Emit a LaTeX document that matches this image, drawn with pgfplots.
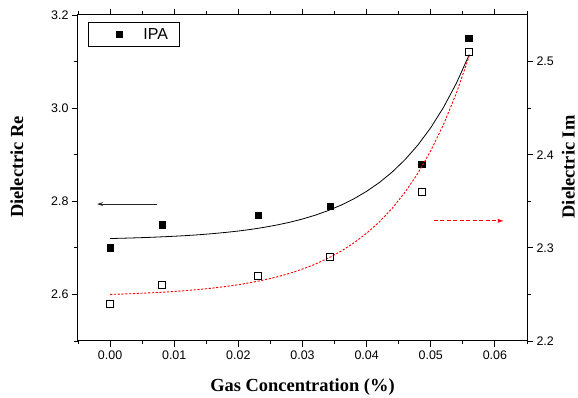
\documentclass[border=0pt]{standalone}
\usepackage{pgfplots}
\pgfplotsset{compat=1.18}
\usepackage{fontspec}
\setmainfont{Liberation Serif}
\newfontfamily\arialf{Liberation Sans}
\usetikzlibrary{arrows.meta}

\pgfplotstableread{
x y
0.000 2.7200
0.002 2.7207
0.004 2.7215
0.006 2.7224
0.008 2.7236
0.010 2.7249
0.012 2.7264
0.014 2.7283
0.016 2.7305
0.018 2.7331
0.020 2.7361
0.022 2.7397
0.024 2.7440
0.026 2.7490
0.028 2.7549
0.030 2.7619
0.032 2.7702
0.034 2.7800
0.036 2.7916
0.038 2.8052
0.040 2.8214
0.042 2.8404
0.044 2.8630
0.046 2.8896
0.048 2.9210
0.050 2.9581
0.052 3.0020
0.054 3.0538
0.056 3.1150
}\fitre

\pgfplotstableread{
x y
0.000 2.2500
0.002 2.2504
0.004 2.2510
0.006 2.2516
0.008 2.2523
0.010 2.2532
0.012 2.2542
0.014 2.2554
0.016 2.2568
0.018 2.2585
0.020 2.2604
0.022 2.2628
0.024 2.2655
0.026 2.2688
0.028 2.2726
0.030 2.2772
0.032 2.2825
0.034 2.2889
0.036 2.2964
0.038 2.3052
0.040 2.3157
0.042 2.3280
0.044 2.3426
0.046 2.3599
0.048 2.3802
0.050 2.4043
0.052 2.4327
0.054 2.4663
0.056 2.5060
}\fitim

\begin{document}
\begin{tikzpicture}
\pgfplotsset{
  every axis/.append style={
    width=449bp, height=326bp, scale only axis,
    xmin=-0.005, xmax=0.065,
    tick align=outside,
    axis line style={-, line width=1bp},
    tick style={black, line width=0.9bp},
    major tick length=6bp, minor tick length=3.5bp,
    tick label style={font=\arialf\fontsize{12.5}{14}\selectfont},
    /pgf/number format/assume math mode=true,
    label style={font=\bfseries\fontsize{18.5}{20}\selectfont},
  }
}
\begin{axis}[name=ax,
  ymin=2.5, ymax=3.2,
  xtick={0,0.01,0.02,0.03,0.04,0.05,0.06},
  minor xtick={-0.005,0.005,0.015,0.025,0.035,0.045,0.055,0.065},
  xticklabel pos=bottom,
  ytick={2.6,2.8,3.0,3.2},
  minor ytick={2.5,2.7,2.9,3.1},
  ytick pos=left,
  scaled x ticks=false,
  scaled y ticks=false,
  xticklabel style={/pgf/number format/.cd, fixed, fixed zerofill, precision=2},
  yticklabel style={/pgf/number format/.cd, fixed, fixed zerofill, precision=1},
  xlabel={Gas Concentration (\%)},
  ylabel={Dielectric Re},
  xlabel style={at={(axis description cs:0.5,0)}, anchor=base, yshift=-50.7bp},
  ylabel style={at={(axis description cs:-0.136,0.534)}, anchor=center, inner sep=0pt},
  legend cell align=left,
  legend image code/.code={\fill[black, draw=none] (18.8bp,-3.3bp) rectangle (25.4bp,3.3bp); \path[draw=none, fill=none] (0bp,0bp) -- (44bp,0bp);},
  legend style={at={(axis description cs:0.0223,0.979)}, anchor=north west,
    draw=black, line width=0.8bp, font=\arialf\fontsize{16}{18}\selectfont,
    inner xsep=9bp, inner ysep=4bp},
]
\addplot[black, line width=0.8bp, forget plot] table[x=x,y=y] {\fitre};
\addplot[only marks, mark=square*, mark size=3.2bp, black] coordinates {
(0.0000,2.70) (0.0081,2.75) (0.0231,2.77) (0.0343,2.79) (0.0486,2.88) (0.0559,3.15)
};
\addlegendentry{IPA}
\draw[black!85, line width=0.8bp, -{Stealth[length=6bp,width=4bp]}] (axis cs:0.00731,2.794) -- (axis cs:-0.00202,2.794);
\draw[red, line width=0.8bp, dash pattern=on 4bp off 2.5bp, -{Latex[length=6bp,width=4bp]}] (axis cs:0.0505,2.758) -- (axis cs:0.0614,2.758);
\end{axis}
\begin{axis}[
  ymin=2.2, ymax=2.55,
  axis x line=none,
  axis y line*=right,
  ytick={2.2,2.3,2.4,2.5},
  minor ytick={2.25,2.35,2.45},
  scaled y ticks=false,
  yticklabel style={/pgf/number format/.cd, fixed, fixed zerofill, precision=1},
  ylabel={Dielectric Im},
  ylabel style={at={(axis description cs:1.092,0.534)}, anchor=center, inner sep=0pt},
]
\addplot[red, line width=0.9bp, dash pattern=on 2.2bp off 1.6bp] table[x=x,y=y] {\fitim};
\addplot[only marks, mark=square, mark size=3.4bp, mark options={draw=black, fill=white, line width=0.8bp}] coordinates {
(0.0000,2.24) (0.0081,2.26) (0.0231,2.27) (0.0343,2.29) (0.0486,2.36) (0.0559,2.51)
};
\end{axis}
\pgfresetboundingbox
\path[use as bounding box] ([xshift=-78bp,yshift=-57bp]ax.south west) rectangle ([xshift=51bp,yshift=15bp]ax.north east);
\end{tikzpicture}
\end{document}
